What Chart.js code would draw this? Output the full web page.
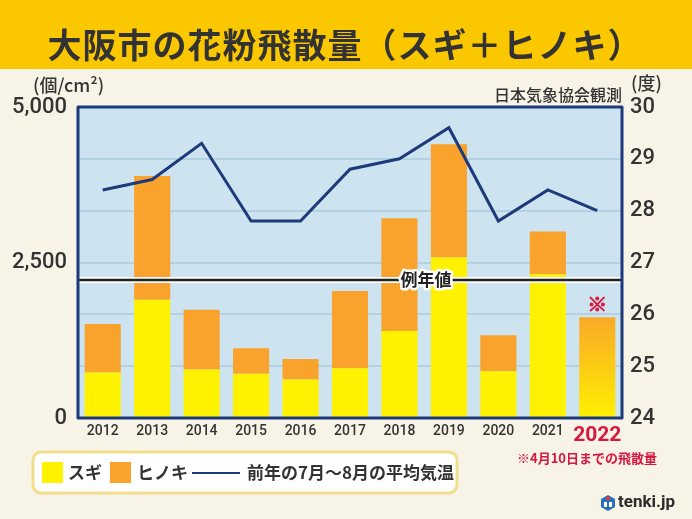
<!DOCTYPE html>
<html>
<head>
<meta charset="utf-8">
<script src="https://cdn.jsdelivr.net/npm/chart.js@4"></script>
<style>
  html, body { margin: 0; padding: 0; background: #f7f3e6; }
  canvas { display: block; }
</style>
</head>
<body>
<canvas id="pollenChart" width="692" height="519"></canvas>
<script>
// data
const years = ['2012', '2013', '2014', '2015', '2016', '2017', '2018', '2019', '2020', '2021', '2022'];
const sugi = [730, 1900, 780, 710, 620, 800, 1400, 2580, 750, 2310, null];
const hinoki = [780, 1990, 960, 410, 330, 1240, 1810, 1820, 580, 690, null];
const total2022 = [null, null, null, null, null, null, null, null, null, null, 1620];
const summerTemp = [28.4, 28.6, 29.3, 27.8, 27.8, 28.8, 29.0, 29.6, 27.8, 28.4, 28.0];
const normalValue = 2220;
const leftTicks = [0, 2500, 5000];

const cream = '#f7f3e6';
const yellowBand = '#fbc800';
const plotBg = '#cde3ef';
const gridCol = '#b4d1e2';
const navy = '#1d3b7a';
const sugiCol = '#fff200';
const hinokiCol = '#f9a22c';
const redText = '#d8173f';
const dark = '#333333';
const jp = "'Noto Sans CJK JP', sans-serif";
const num = "Roboto, 'Liberation Sans', sans-serif";

function gradient2022(ctx) {
    const area = ctx.chart.chartArea;
    if (!area) return hinokiCol;
    const g = ctx.chart.ctx.createLinearGradient(0, area.bottom, 0, area.bottom - 110);
    g.addColorStop(0, '#fff000');
    g.addColorStop(1, '#f9a22c');
    return g;
}

// background, title band and plot fill
const backdrop = {
    id: 'backdrop',
    beforeDraw(chart) {
        const { ctx, chartArea: a } = chart;
        ctx.save();
        ctx.fillStyle = cream;
        ctx.fillRect(0, 0, chart.width, chart.height);
        ctx.fillStyle = yellowBand;
        ctx.fillRect(0, 0, chart.width, 69);
        ctx.fillStyle = dark;
        ctx.font = 'bold 34px ' + jp;
        ctx.textAlign = 'center';
        ctx.textBaseline = 'middle';
        ctx.letterSpacing = '1px';
        ctx.fillText('大阪市の花粉飛散量（スギ＋ヒノキ）', 345, 45);
        ctx.letterSpacing = '0px';
        ctx.fillStyle = plotBg;
        ctx.fillRect(a.left, a.top, a.right - a.left, a.bottom - a.top);
        ctx.restore();
    }
};

// normal line, marker for 2022 and frame
const overlays = {
    id: 'overlays',
    afterDatasetsDraw(chart) {
        const { ctx, chartArea: a, scales } = chart;
        const y = scales.y.getPixelForValue(normalValue);
        ctx.save();
        ctx.strokeStyle = '#ffffff';
        ctx.lineWidth = 6;
        ctx.beginPath(); ctx.moveTo(a.left, y); ctx.lineTo(a.right, y); ctx.stroke();
        ctx.strokeStyle = '#222222';
        ctx.lineWidth = 2.5;
        ctx.beginPath(); ctx.moveTo(a.left, y); ctx.lineTo(a.right, y); ctx.stroke();

        ctx.font = 'bold 17px ' + jp;
        ctx.textAlign = 'center';
        ctx.textBaseline = 'middle';
        ctx.strokeStyle = '#ffffff';
        ctx.lineWidth = 5;
        ctx.lineJoin = 'round';
        ctx.strokeText('例年値', 426, y);
        ctx.fillStyle = '#222222';
        ctx.fillText('例年値', 426, y);

        // ※ above the 2022 bar
        const bar = chart.getDatasetMeta(2).data[10];
        ctx.fillStyle = redText;
        ctx.strokeStyle = redText;
        ctx.lineWidth = 1;
        ctx.font = 'bold 20px ' + jp;
        ctx.fillText('※', bar.x, bar.y - 13);
        ctx.strokeText('※', bar.x, bar.y - 13);

        ctx.strokeStyle = navy;
        ctx.lineWidth = 3;
        ctx.strokeRect(a.left, a.top, a.right - a.left, a.bottom - a.top);
        ctx.restore();
    }
};

// units, notes, legend box and logo
const labels = {
    id: 'labels',
    afterDraw(chart) {
        const { ctx } = chart;
        ctx.save();
        ctx.textBaseline = 'middle';
        ctx.fillStyle = dark;
        ctx.font = '500 18px ' + jp;
        ctx.textAlign = 'left';
        ctx.fillText('(個/cm²)', 33, 85);
        ctx.fillText('(度)', 631, 83);
        ctx.font = '500 16px ' + jp;
        ctx.textAlign = 'right';
        ctx.fillText('日本気象協会観測', 622, 95);

        ctx.fillStyle = redText;
        ctx.font = 'bold 13px ' + jp;
        ctx.fillText('※4月10日までの飛散量', 657, 458);

        // legend box
        ctx.beginPath();
        ctx.roundRect(33, 452, 424, 41, 8);
        ctx.fillStyle = '#ffffff';
        ctx.fill();
        ctx.strokeStyle = '#f2df8e';
        ctx.lineWidth = 3;
        ctx.stroke();

        const ds = chart.data.datasets;
        const cy = 473;
        ctx.textAlign = 'left';
        ctx.font = 'bold 17px ' + jp;
        ctx.fillStyle = ds[0].backgroundColor;
        ctx.fillRect(42, 462, 21, 21);
        ctx.fillStyle = dark;
        ctx.fillText(ds[0].label, 68, cy);
        ctx.fillStyle = ds[1].backgroundColor;
        ctx.fillRect(110, 462, 21, 21);
        ctx.fillStyle = dark;
        ctx.fillText(ds[1].label, 137, cy);
        ctx.strokeStyle = ds[3].borderColor;
        ctx.lineWidth = 2;
        ctx.beginPath(); ctx.moveTo(192, cy); ctx.lineTo(240, cy); ctx.stroke();
        ctx.fillText(ds[3].label, 247, cy);

        // tenki.jp logo
        ctx.fillStyle = '#2a6fb8';
        ctx.beginPath();
        ctx.moveTo(608, 495); ctx.lineTo(615, 499); ctx.lineTo(615, 507);
        ctx.lineTo(608, 511); ctx.lineTo(601, 507); ctx.lineTo(601, 499);
        ctx.closePath(); ctx.fill();
        ctx.fillStyle = '#ffffff';
        ctx.fillRect(604, 502, 3, 5);
        ctx.fillRect(609, 502, 3, 5);
        ctx.fillStyle = '#e23b3b';
        ctx.fillRect(606, 497, 4, 3);
        ctx.fillStyle = '#2b2b2b';
        ctx.font = 'bold 17px ' + num;
        ctx.fillText('tenki.jp', 618, 503);
        ctx.restore();
    }
};

new Chart(document.getElementById('pollenChart'), {
    data: {
        labels: years,
        datasets: [{
            type: 'bar',
            label: 'スギ',
            data: sugi,
            backgroundColor: sugiCol,
            yAxisID: 'y',
            order: 2
        }, {
            type: 'bar',
            label: 'ヒノキ',
            data: hinoki,
            backgroundColor: hinokiCol,
            yAxisID: 'y',
            order: 2
        }, {
            type: 'bar',
            label: '2022',
            data: total2022,
            backgroundColor: gradient2022,
            yAxisID: 'y',
            order: 2
        }, {
            type: 'line',
            label: '前年の7月〜8月の平均気温',
            data: summerTemp,
            borderColor: navy,
            borderWidth: 3,
            pointRadius: 0,
            tension: 0,
            yAxisID: 'y1',
            order: 1
        }]
    },
    options: {
        responsive: false,
        animation: false,
        layout: { padding: { top: 107, left: 0, right: 0, bottom: 0 } },
        datasets: {
            bar: { barPercentage: 0.73, categoryPercentage: 1, borderWidth: 0 }
        },
        plugins: {
            legend: { display: false },
            tooltip: { enabled: false }
        },
        scales: {
            x: {
                stacked: true,
                grid: { display: false, drawTicks: false },
                border: { display: false },
                afterFit: s => { s.height = 101; },
                ticks: {
                    padding: 5,
                    autoSkip: false,
                    maxRotation: 0,
                    color: ctx => ctx.index === 10 ? redText : dark,
                    font: ctx => ctx.index === 10
                        ? { family: num, size: 21, weight: 'bold' }
                        : { family: num, size: 14, weight: '500' }
                }
            },
            y: {
                stacked: true,
                position: 'left',
                min: 0,
                max: 5000,
                grid: { display: false, drawTicks: false },
                border: { display: false },
                afterFit: s => { s.width = 78; },
                afterBuildTicks: s => { s.ticks = leftTicks.map(v => ({ value: v })); },
                ticks: {
                    padding: 11,
                    color: dark,
                    font: { family: num, size: 22, weight: '500' },
                    callback: v => v.toLocaleString('en-US')
                }
            },
            y1: {
                stacked: false,
                position: 'right',
                min: 24,
                max: 30,
                grid: { color: gridCol, lineWidth: 2, drawTicks: false },
                border: { display: false },
                afterFit: s => { s.width = 70; },
                ticks: {
                    stepSize: 1,
                    padding: 8,
                    color: dark,
                    font: { family: num, size: 22, weight: '500' }
                }
            }
        }
    },
    plugins: [backdrop, overlays, labels]
});
</script>
</body>
</html>
